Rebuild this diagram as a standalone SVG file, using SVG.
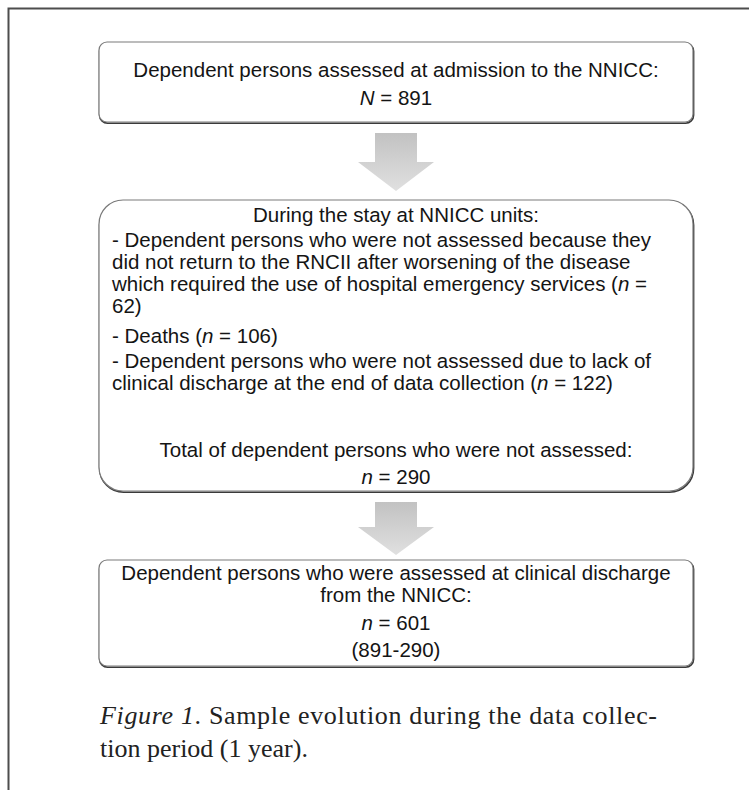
<svg xmlns="http://www.w3.org/2000/svg" width="749" height="790" viewBox="0 0 749 790">
<defs>
<linearGradient id="ag" x1="0" y1="0" x2="0" y2="1">
<stop offset="0" stop-color="#c2c2c2"/>
<stop offset="1" stop-color="#e0e0e0"/>
</linearGradient>
</defs>
<style>
.frame{fill:none;stroke:#4d4d4d;stroke-width:2}
.shadow{fill:none;stroke:#3a3a3a;stroke-width:1.6}
.box{fill:#ffffff;stroke:#7a7a7a;stroke-width:1.2}
.t{font-family:"Liberation Sans",Arial,sans-serif;font-size:20.5px;fill:#141414}
.c{text-anchor:middle}
.i{font-style:italic}
.arrow{fill:url(#ag);stroke:none}
.cap{font-family:"Liberation Serif","Times New Roman",serif;font-size:26px;fill:#222}
</style>
<rect width="749" height="790" fill="#ffffff"/>
<path class="frame" d="M8.5 790 V8.5 H749"/>

<g id="connectors">
<path class="arrow" d="M375 133 H417 V162 H434 L396 191 L358 162 H375 Z"/>
<path class="arrow" d="M375 502 H417 V527 H434 L396 555 L358 527 H375 Z"/>
</g>

<g id="node-admission">
<rect class="shadow" x="99.6" y="43.2" width="594" height="80" rx="8"/>
<rect class="box" x="99" y="42" width="594" height="80" rx="8"/>
<text class="t c" x="396" y="77">Dependent persons assessed at admission to the NNICC:</text>
<text class="t c" x="396" y="105"><tspan class="i">N</tspan> = 891</text>
</g>

<g id="node-stay">
<rect class="shadow" x="99.6" y="201.2" width="594" height="291" rx="24"/>
<rect class="box" x="99" y="200" width="594" height="291" rx="24"/>
<text class="t c" x="396" y="222">During the stay at NNICC units:</text>
<text class="t" x="112" y="247">- Dependent persons who were not assessed because they</text>
<text class="t" x="112" y="269">did not return to the RNCII after worsening of the disease</text>
<text class="t" x="112" y="291">which required the use of hospital emergency services (<tspan class="i">n</tspan> =</text>
<text class="t" x="112" y="313">62)</text>
<text class="t" x="112" y="343">- Deaths (<tspan class="i">n</tspan> = 106)</text>
<text class="t" x="112" y="368">- Dependent persons who were not assessed due to lack of</text>
<text class="t" x="112" y="390">clinical discharge at the end of data collection (<tspan class="i">n</tspan> = 122)</text>
<text class="t c" x="396" y="457">Total of dependent persons who were not assessed:</text>
<text class="t c" x="396" y="484"><tspan class="i">n</tspan> = 290</text>
</g>

<g id="node-discharge">
<rect class="shadow" x="99.6" y="561.2" width="594" height="106" rx="8"/>
<rect class="box" x="99" y="560" width="594" height="106" rx="8"/>
<text class="t c" x="396" y="580">Dependent persons who were assessed at clinical discharge</text>
<text class="t c" x="396" y="602">from the NNICC:</text>
<text class="t c" x="396" y="630"><tspan class="i">n</tspan> = 601</text>
<text class="t c" x="396" y="657">(891-290)</text>
</g>

<g id="caption">
<text class="cap" x="100" y="724" textLength="557" lengthAdjust="spacing"><tspan class="i">Figure 1</tspan>.  Sample evolution during the data collec-</text>
<text class="cap" x="100" y="757">tion period (1 year).</text>
</g>
</svg>
